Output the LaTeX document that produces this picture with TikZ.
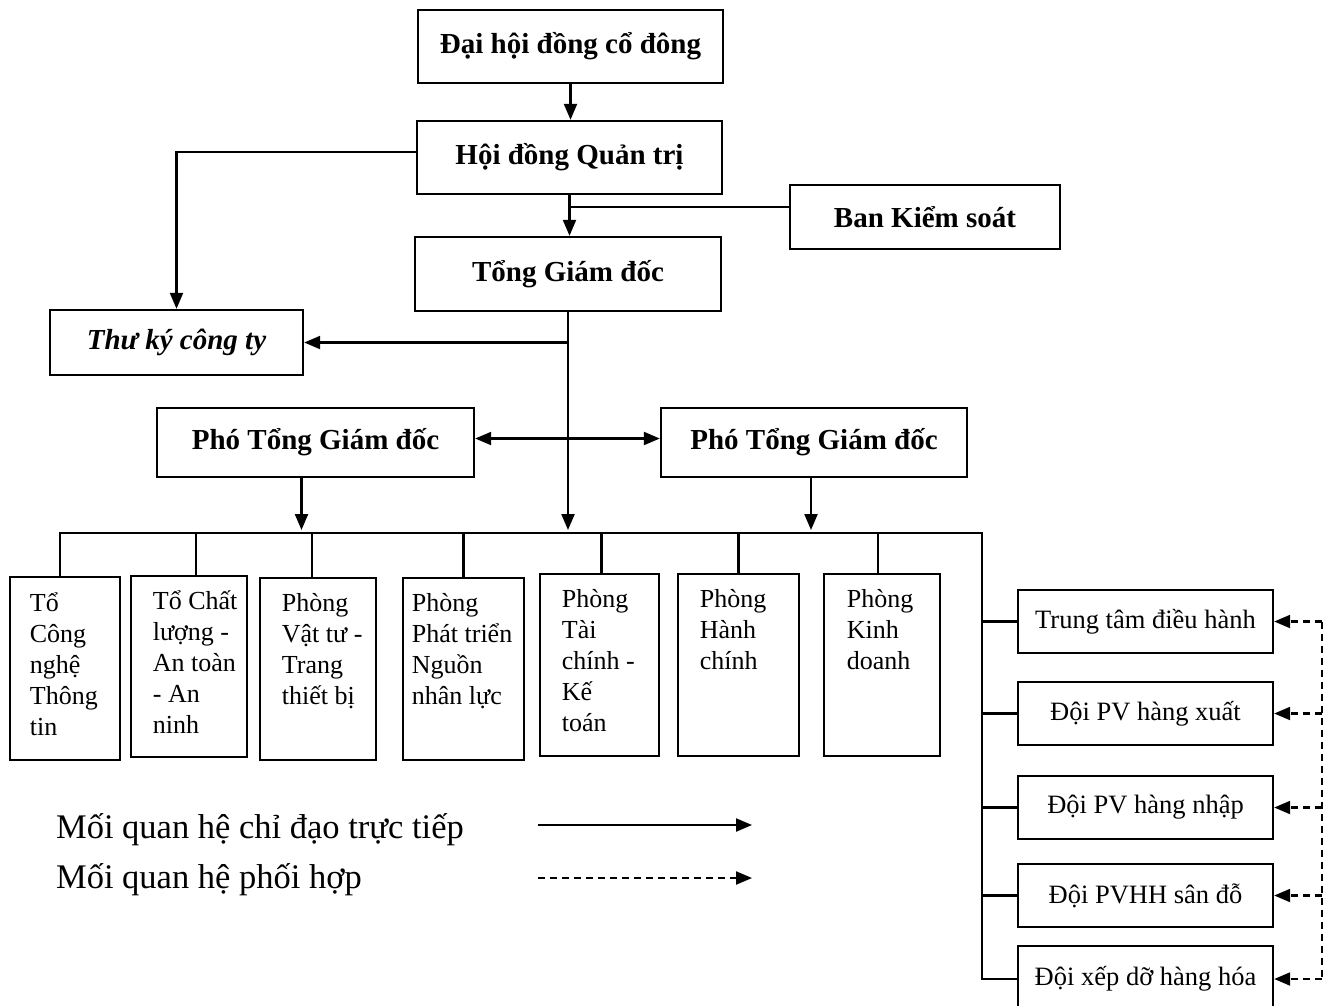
\documentclass[tikz,border=0pt]{standalone}
\usepackage{fontspec}
\setmainfont{Liberation Serif}
\usetikzlibrary{arrows.meta}
\newcommand\bx[7]{\node[#6, minimum width={#4-#2}, minimum height={#5-#3}] (#1) at ({(#2+#4)/2},{(#3+#5)/2}) {#7};}
\begin{document}
\begin{tikzpicture}[x=1pt,y=-1pt,
  line width=2.2pt,
  box/.style={draw, line width=2.4pt, inner sep=0pt},
  topbox/.style={box, font=\fontsize{29}{33}\selectfont\bfseries},
  itbox/.style={box, font=\fontsize{29}{33}\selectfont\bfseries\itshape},
  rbox/.style={box, font=\fontsize{26.5}{30}\selectfont},
  dtext/.style={inner sep=0pt, anchor=north west, align=left, font=\fontsize{26}{31}\selectfont},
  arr/.style={-{Triangle[length=16pt,width=13pt]}},
  arrb/.style={{Triangle[length=16pt,width=13pt]}-{Triangle[length=16pt,width=13pt]}},
  darr/.style={dash pattern=on 7pt off 5pt, -{Triangle[length=16pt,width=13pt]}},
  dline/.style={dash pattern=on 7pt off 5pt},
  legend/.style={inner sep=0pt, anchor=base west, font=\fontsize{34.5}{40}\selectfont}
]
\useasboundingbox (0,0) rectangle (1329,1005);
\fill[white] (0,0) rectangle (1329,1005);

% top levels
\bx{dh}{418}{10}{723}{83}{topbox}{Đại hội đồng cổ đông}
\bx{hd}{417}{121}{722}{194}{topbox}{Hội đồng Quản trị}
\bx{bks}{790}{185}{1060}{249}{topbox}{Ban Kiểm soát}
\bx{tg}{415}{237}{721}{311}{topbox}{Tổng Giám đốc}
\bx{tk}{50}{310}{303}{375}{itbox}{Thư ký công ty}
\bx{pl}{157}{408}{474}{477}{topbox}{Phó Tổng Giám đốc}
\bx{pr}{661}{408}{967}{477}{topbox}{Phó Tổng Giám đốc}

% departments
\bx{d1}{10}{577}{120}{760}{box}{}
\bx{d2}{131}{576}{247}{757}{box}{}
\bx{d3}{260}{578}{376}{760}{box}{}
\bx{d4}{403}{578}{524}{760}{box}{}
\bx{d5}{540}{574}{659}{756}{box}{}
\bx{d6}{678}{574}{799}{756}{box}{}
\bx{d7}{824}{574}{940}{756}{box}{}
\node[dtext] (t1) at ([shift={(20,16)}]d1.north west) {Tổ\\Công\\nghệ\\Thông\\tin};
\node[dtext] (t2) at ([shift={(22,15)}]d2.north west) {Tổ Chất\\lượng -\\An toàn\\- An\\ninh};
\node[dtext] (t3) at ([shift={(22,16)}]d3.north west) {Phòng\\Vật tư -\\Trang\\thiết bị};
\node[dtext] (t4) at ([shift={(9,16)}]d4.north west) {Phòng\\Phát triển\\Nguồn\\nhân lực};
\node[dtext] (t5) at ([shift={(22,16)}]d5.north west) {Phòng\\Tài\\chính -\\Kế\\toán};
\node[dtext] (t6) at ([shift={(22,16)}]d6.north west) {Phòng\\Hành\\chính};
\node[dtext] (t7) at ([shift={(23,16)}]d7.north west) {Phòng\\Kinh\\doanh};

% right units
\bx{r1}{1018}{590}{1273}{653}{rbox}{Trung tâm điều hành}
\bx{r2}{1018}{682}{1273}{745}{rbox}{Đội PV hàng xuất}
\bx{r3}{1018}{776}{1273}{839}{rbox}{Đội PV hàng nhập}
\bx{r4}{1018}{864}{1273}{927}{rbox}{Đội PVHH sân đỗ}
\bx{r5}{1018}{946}{1273}{1012}{rbox}{Đội xếp dỡ hàng hóa}

% connectors top
\draw[arr] (dh.south) -- (dh.south |- hd.north);
\draw[arr] (hd.south) -- (hd.south |- tg.north);
\coordinate (bkj) at ([yshift=10pt]bks.west);
\draw (bkj) -- (hd.south |- bkj);
\draw[arr] ([yshift=5.5pt]hd.west) -| (tk.north);

% bus
\coordinate (busl) at (60,533);
\coordinate (busr) at (982,533);
\draw[arr] (tg.south) -- (tg.south |- 0,530);
\draw[arr] (tg.south |- tk.east) -- (tk.east);
\draw[arrb] ([yshift=4pt]pl.east) -- ([yshift=4pt]pr.west);
\draw[arr] ([xshift=-14pt]pl.south) -- ([xshift=-14pt]pl.south |- 0,530);
\draw[arr] ([xshift=-3pt]pr.south) -- ([xshift=-3pt]pr.south |- 0,530);
\draw (busl |- d1.north) -- (busl) -- (busr) |- (r5.west);
\draw ([xshift=7pt]d2.north) -- ([xshift=7pt]d2.north |- busl);
\draw ([xshift=-6pt]d3.north) -- ([xshift=-6pt]d3.north |- busl);
\draw (d4.north) -- (d4.north |- busl);
\draw ([xshift=2pt]d5.north) -- ([xshift=2pt]d5.north |- busl);
\draw (d6.north) -- (d6.north |- busl);
\draw ([xshift=-4pt]d7.north) -- ([xshift=-4pt]d7.north |- busl);
\draw (busr |- r1.west) -- (r1.west);
\draw (busr |- r2.west) -- (r2.west);
\draw (busr |- r3.west) -- (r3.west);
\draw (busr |- r4.west) -- (r4.west);

% coordination (dashed)
\coordinate (dx) at (1322,0);
\draw[dline] (dx |- r1.east) -- (dx |- r5.east);
\draw[darr] (dx |- r1.east) -- (r1.east);
\draw[darr] (dx |- r2.east) -- (r2.east);
\draw[darr] (dx |- r3.east) -- (r3.east);
\draw[darr] (dx |- r4.east) -- (r4.east);
\draw[darr] (dx |- r5.east) -- (r5.east);

% legend
\node[legend] (lg1) at (55,838) {Mối quan hệ chỉ đạo trực tiếp};
\node[legend] (lg2) at (55,888) {Mối quan hệ phối hợp};
\coordinate (la1) at (538,825);
\coordinate (lb1) at (752,825);
\coordinate (la2) at (538,878);
\coordinate (lb2) at (752,878);
\draw[arr] (la1) -- (lb1);
\draw[darr] (la2) -- (lb2);
\end{tikzpicture}
\end{document}
